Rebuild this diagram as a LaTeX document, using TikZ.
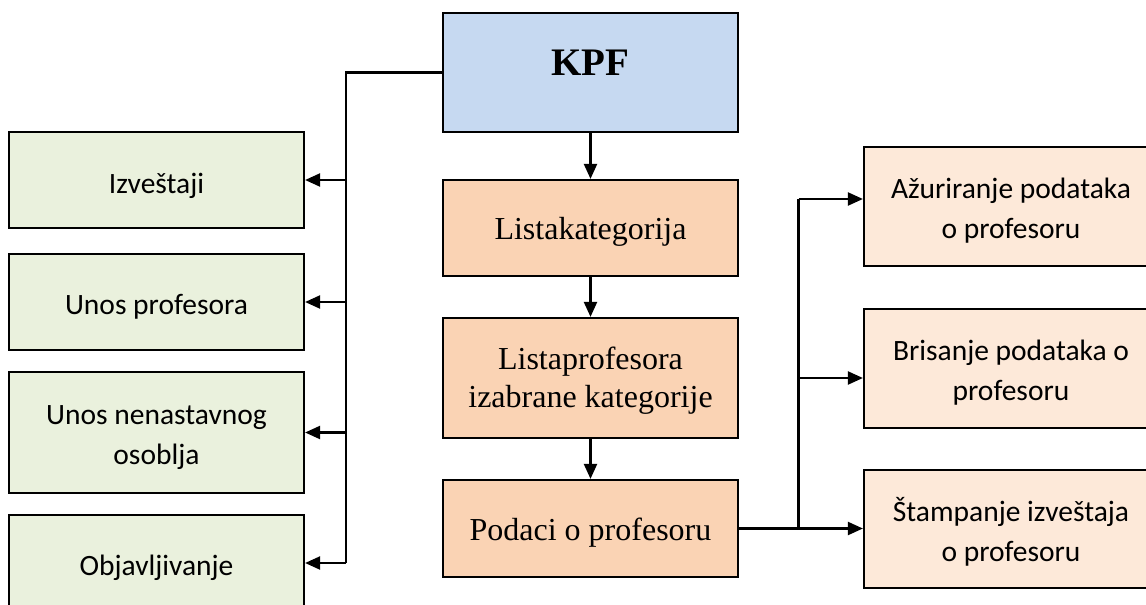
\documentclass[tikz,border=0pt]{standalone}
\usepackage{fontspec}
\setmainfont{Liberation Serif}
\newfontfamily\calibri{Carlito}
\usetikzlibrary{arrows.meta}

\definecolor{rootblue}{HTML}{C6D9F1}
\definecolor{midorange}{HTML}{FAD3B4}
\definecolor{lightpeach}{HTML}{FDE9D9}
\definecolor{lightgreen}{HTML}{EAF1DD}

% set a (possibly multi-line) label, moved vertically without changing its size
\newcommand{\shifttext}[2]{\raisebox{#1}[\height][\depth]{\begin{tabular}{@{}c@{}}#2\end{tabular}}}

\tikzset{
  box/.style={draw=black, line width=2.2pt, rectangle, inner sep=0pt, align=center},
  greenbox/.style={box, fill=lightgreen, minimum width=295pt,
    font=\calibri\fontsize{29.5}{40}\selectfont},
  midbox/.style={box, fill=midorange, minimum width=295pt,
    font=\fontsize{32}{37.7}\selectfont},
  peachbox/.style={box, fill=lightpeach, minimum width=294pt,
    font=\calibri\fontsize{29.5}{40}\selectfont},
  link/.style={line width=2.2pt, draw=black},
  arr/.style={link, -{Triangle[length=15pt, width=13pt]}}
}

\begin{document}
\begin{tikzpicture}[x=1pt, y=-1pt]
  \useasboundingbox (0,0) rectangle (1146,605);
  \clip (0,0) rectangle (1146,605);
  \fill[white] (0,0) rectangle (1146,605);

  % root
  \node[box, fill=rootblue, minimum width=295pt, minimum height=119pt,
        font=\fontsize{39}{45}\selectfont\bfseries] (kpf) at (590.5,72.5) {\shifttext{6pt}{KPF}};

  % central chain
  \node[midbox, minimum height=96pt]  (lk) at (590.5,228)   {\shifttext{-4pt}{Listakategorija}};
  \node[midbox, minimum height=120pt] (lp) at (590.5,378)   {\shifttext{-3pt}{Listaprofesora\\izabrane kategorije}};
  \node[midbox, minimum height=97pt]  (pp) at (590.5,528.5) {\shifttext{-4pt}{Podaci o profesoru}};

  % left branch
  \node[greenbox, minimum height=96pt]  (iz) at (156.5,180)   {\shifttext{-5pt}{Izveštaji}};
  \node[greenbox, minimum height=96pt]  (up) at (156.5,302)   {\shifttext{-4pt}{Unos profesora}};
  \node[greenbox, minimum height=121pt] (un) at (156.5,432.5) {\shifttext{-4pt}{Unos nenastavnog\\osoblja}};
  \node[greenbox, minimum height=96pt]  (ob) at (156.5,563)   {\shifttext{-4pt}{Objavljivanje}};

  % right branch
  \node[peachbox, minimum height=119pt] (az) at (1011,206.5) {\shifttext{-4pt}{Ažuriranje podataka\\o profesoru}};
  \node[peachbox, minimum height=119pt] (br) at (1011,368.5) {\shifttext{-4pt}{Brisanje podataka o\\profesoru}};
  \node[peachbox, minimum height=118pt] (st) at (1011,529)   {\shifttext{-4pt}{Štampanje izveštaja\\o profesoru}};

  % bus coordinates
  \coordinate (lt) at (346,72.5);
  \coordinate (lb) at (346,563);
  \coordinate (rt) at (798.5,199);
  \coordinate (rm) at (798.5,378);
  \coordinate (rb) at (798.5,528.5);

  % central arrows
  \draw[arr] (kpf.south) -- (lk.north);
  \draw[arr] (lk.south) -- (lp.north);
  \draw[arr] (lp.south) -- (pp.north);

  % left bus
  \draw[link] (kpf.west) -- (lt) -- (lb);
  \draw[arr] (lt |- iz.east) -- (iz.east);
  \draw[arr] (lt |- up.east) -- (up.east);
  \draw[arr] (lt |- un.east) -- (un.east);
  \draw[arr] (lb) -- (ob.east);

  % right bus
  \draw[link] (pp.east) -- (rb) -- (rt);
  \draw[arr] (rt) -- (az.west |- rt);
  \draw[arr] (rm) -- (br.west |- rm);
  \draw[arr] (rb) -- (st.west |- rb);
\end{tikzpicture}
\end{document}
